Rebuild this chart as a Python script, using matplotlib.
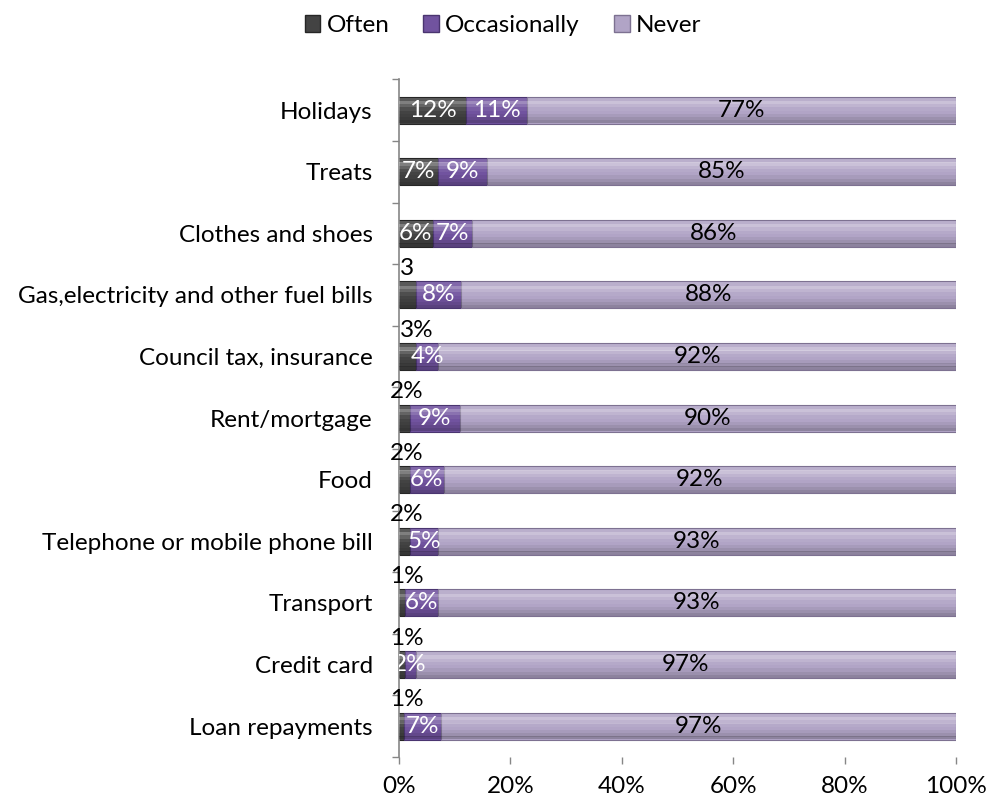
import numpy as np
import matplotlib
matplotlib.use("Agg")
import matplotlib.pyplot as plt
from matplotlib.patches import Patch

plt.rcParams['font.family'] = ['Lato', 'DejaVu Sans']

categories = [
    "Holidays",
    "Treats",
    "Clothes and shoes",
    "Gas,electricity and other fuel bills",
    "Council tax, insurance",
    "Rent/mortgage",
    "Food",
    "Telephone or mobile phone bill",
    "Transport",
    "Credit card",
    "Loan repayments",
]
often = [12, 7, 6, 3, 3, 2, 2, 2, 1, 1, 1]
occasionally = [11, 9, 7, 8, 4, 9, 6, 5, 6, 2, 7]
never = [77, 85, 86, 88, 92, 90, 92, 93, 93, 97, 97]
often_text = ["12%", "7%", "6%", "3", "3%", "2%", "2%", "2%", "1%", "1%", "1%"]
series_names = ["Often", "Occasionally", "Never"]
x_ticks = [0, 20, 40, 60, 80, 100]

colors = ["#434343", "#71539f", "#b1a4c6"]
edges = ["#262626", "#4a3570", "#7d7191"]
FS = 17.5

# 100% stacked: scale each row to its total
raw = np.array([often, occasionally, never], dtype=float)
shares = raw / raw.sum(axis=0) * 100

fig = plt.figure(figsize=(9.86, 8.01), dpi=100)
ax = fig.add_axes([0.4047, 0.055, 0.5649, 0.846])

y = np.arange(len(categories))
h = 0.44
# shading strips from top to bottom of each bar (offset, colour, alpha)
bands = [(-0.40, "white", 0.12), (-0.28, "white", 0.32), (-0.16, "white", 0.18),
         (-0.04, "white", 0.06), (0.20, "black", 0.05), (0.32, "black", 0.12),
         (0.43, "black", 0.20)]
left = np.zeros(len(categories))
for i in range(3):
    ax.barh(y, shares[i], left=left, height=h, color=colors[i],
            edgecolor=edges[i], linewidth=0.8, zorder=2)
    for off, c, a in bands:
        ax.barh(y + off * h, shares[i], left=left, height=h * 0.125,
                color=c, alpha=a, linewidth=0, zorder=3)
    left = left + shares[i]

# value labels
for k in range(len(categories)):
    s0, s1, s2 = shares[:, k]
    if often[k] >= 5:
        ax.text(s0 / 2, y[k], often_text[k], ha="center", va="center",
                color="white", fontsize=FS, zorder=4, clip_on=True)
    else:
        ax.text(-1.6 if often[k] < 3 else 0.1, y[k] - 0.43, often_text[k],
                ha="left", va="center", color="black", fontsize=FS,
                zorder=4, clip_on=False)
    ax.text(s0 + s1 / 2, y[k], f"{occasionally[k]}%", ha="center",
            va="center", color="white", fontsize=FS, zorder=4, clip_on=True)
    ax.text(s0 + s1 + s2 / 2, y[k], f"{never[k]}%", ha="center",
            va="center", color="black", fontsize=FS, zorder=4)

ax.set_xlim(0, 100)
ax.set_ylim(len(categories) - 0.5, -0.5)

ax.set_yticks(y)
ax.set_yticklabels(categories, fontsize=FS)
ax.set_yticks(np.arange(-0.5, len(categories)), minor=True)
ax.tick_params(axis="y", which="major", length=0, pad=19)
ax.tick_params(axis="y", which="minor", length=5, color="#868686", width=1)

ax.set_xticks(x_ticks)
ax.set_xticklabels([f"{t}%" for t in x_ticks], fontsize=FS)
ax.tick_params(axis="x", length=5, color="#868686", width=1, pad=9)

for side in ["top", "right", "bottom"]:
    ax.spines[side].set_visible(False)
ax.spines["left"].set_color("#868686")
ax.spines["left"].set_linewidth(1.2)

handles = [Patch(facecolor=colors[i], edgecolor=edges[i]) for i in range(3)]
fig.legend(handles, series_names, loc="center", bbox_to_anchor=(0.51, 0.968),
           ncol=3, frameon=False, fontsize=FS, handlelength=0.65,
           handleheight=0.65, handletextpad=0.25, columnspacing=1.4)

fig.savefig("out.png", dpi=100)
